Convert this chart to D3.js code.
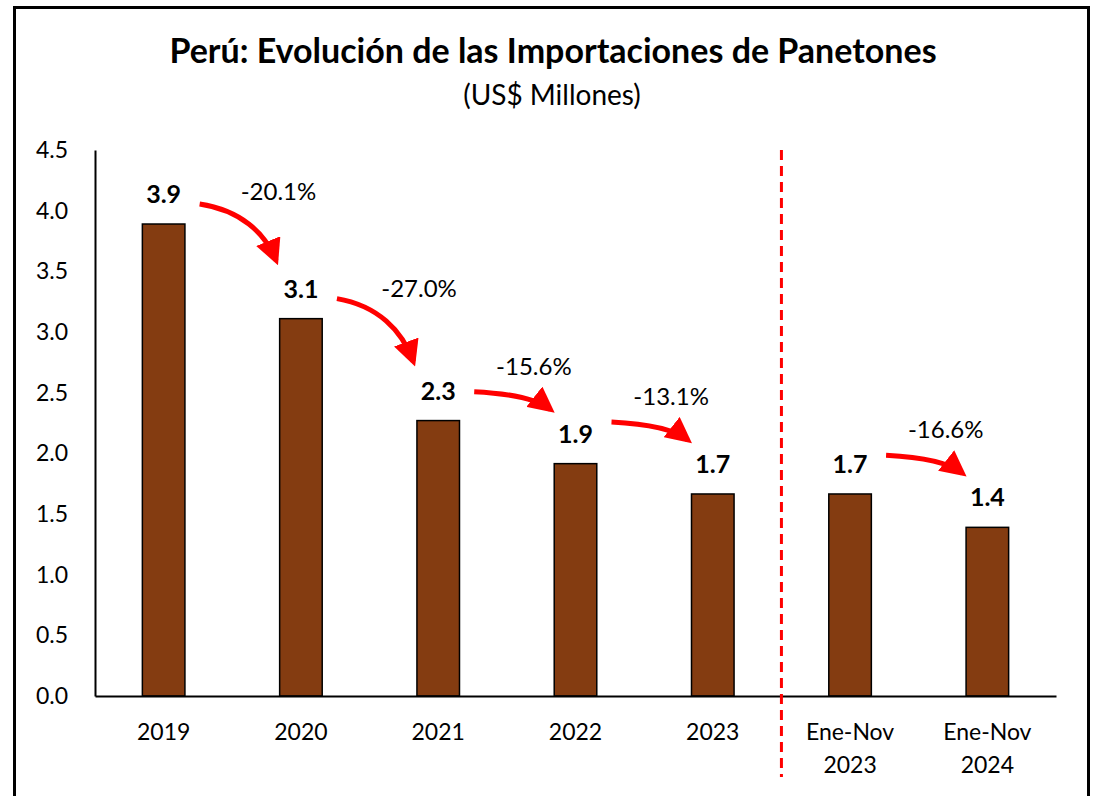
<!DOCTYPE html>
<html lang="es">
<head>
<meta charset="UTF-8" />
<title>Importaciones de Panetones</title>
<script src="https://d3js.org/d3.v7.min.js"></script>
<style>
  body { margin: 0; background: #fff; }
  text { font-family: Lato, "Open Sans", sans-serif; fill: #000; }
</style>
</head>
<body>
<div id="chart"></div>
<script>
// data
var categories = ["2019", "2020", "2021", "2022", "2023", "Ene-Nov 2023", "Ene-Nov 2024"];
var values = [3.89, 3.11, 2.27, 1.915, 1.665, 1.665, 1.39];
var yTicks = [0, 0.5, 1, 1.5, 2, 2.5, 3, 3.5, 4, 4.5];
// variations between consecutive bars: from index, to index, label
var changeFrom = [0, 1, 2, 3, 5];
var changeTo = [1, 2, 3, 4, 6];
var changeLabels = ["-20.1%", "-27.0%", "-15.6%", "-13.1%", "-16.6%"];

(function () {
    var w = 1101, h = 796;
    var padLeft = 95, padRight = 1056, padTop = 150, padBottom = 696;
    var barColor = "#843C11";
    var red = "#FF0000";

    var svg = d3.select("#chart").append("svg")
        .attr("width", w)
        .attr("height", h);

    svg.append("rect").attr("width", w).attr("height", h).attr("fill", "#fff");

    // outer frame (bottom edge runs off the picture)
    svg.append("rect")
        .attr("x", 14.5).attr("y", 7.5)
        .attr("width", 1074).attr("height", 820)
        .attr("fill", "none").attr("stroke", "#000").attr("stroke-width", 3);

    svg.append("text")
        .attr("x", 553).attr("y", 63)
        .attr("text-anchor", "middle")
        .style("font-weight", "bold").style("font-size", "34px")
        .text("Perú: Evolución de las Importaciones de Panetones");

    svg.append("text")
        .attr("x", 552).attr("y", 105)
        .attr("text-anchor", "middle")
        .style("font-size", "28px")
        .text("(US$ Millones)");

    var x = d3.scaleBand()
        .domain(categories)
        .range([padLeft, padRight])
        .paddingInner(0.69)
        .paddingOuter(0.345);

    var y = d3.scaleLinear()
        .domain([0, 4.5])
        .range([padBottom, padTop]);

    function xc(i) { return x(categories[i]) + x.bandwidth() / 2; }

    // y axis
    var yAxis = svg.append("g")
        .attr("transform", "translate(" + padLeft + ",0)")
        .call(d3.axisLeft(y).tickValues(yTicks).tickFormat(d3.format(".1f")).tickSize(0).tickPadding(27));
    yAxis.select(".domain").attr("stroke", "#000").attr("stroke-width", 2);
    yAxis.selectAll("text").style("font-size", "23px").style("font-family", "Lato, sans-serif").attr("fill", "#000");

    // bars
    svg.selectAll(".bar")
        .data(values)
        .enter()
        .append("rect")
        .attr("class", "bar")
        .attr("x", function (d, i) { return x(categories[i]); })
        .attr("y", function (d) { return y(d); })
        .attr("width", x.bandwidth())
        .attr("height", function (d) { return y(0) - y(d); })
        .attr("fill", barColor)
        .attr("stroke", "#000")
        .attr("stroke-width", 1.5);

    // x axis
    var xAxis = svg.append("g")
        .attr("transform", "translate(0," + padBottom + ")")
        .call(d3.axisBottom(x).tickSize(0).tickSizeOuter(0).tickFormat(""));
    xAxis.select(".domain").attr("stroke", "#000").attr("stroke-width", 2);
    xAxis.selectAll(".tick").each(function (d) {
        var lines = d.split(" ");
        var t = d3.select(this).append("text")
            .attr("y", 44)
            .attr("text-anchor", "middle")
            .style("font-size", "23px")
            .style("font-family", "Lato, sans-serif")
            .attr("fill", "#000");
        lines.forEach(function (ln, k) {
            t.append("tspan").attr("x", 0).attr("dy", k === 0 ? 0 : 33).text(ln);
        });
    });

    // dashed divider between full years and Ene-Nov
    var divX = xc(5) - x.step() / 2;
    svg.append("line")
        .attr("x1", divX).attr("x2", divX)
        .attr("y1", padTop).attr("y2", 777)
        .attr("stroke", red).attr("stroke-width", 3)
        .attr("stroke-dasharray", "10,6");

    // value labels
    svg.selectAll(".val")
        .data(values)
        .enter()
        .append("text")
        .attr("class", "val")
        .attr("x", function (d, i) { return xc(i); })
        .attr("y", function (d) { return y(d) - 21; })
        .attr("text-anchor", "middle")
        .style("font-weight", "bold").style("font-size", "25px")
        .text(function (d) { return d3.format(".1f")(d); });

    // curved arrows with variation labels
    svg.append("defs").append("marker")
        .attr("id", "head")
        .attr("viewBox", "0 0 10 10")
        .attr("refX", 8).attr("refY", 5)
        .attr("markerWidth", 26).attr("markerHeight", 26)
        .attr("markerUnits", "userSpaceOnUse")
        .attr("orient", "auto")
        .append("path").attr("d", "M0,0 L10,5 L0,10 Z").attr("fill", red);

    changeFrom.forEach(function (a, k) {
        var b = changeTo[k];
        var sx = xc(a) + 36;
        var sy = Math.min(y(values[a]) - 20, y(values[b]) - 72);
        var ex = xc(b) - 20;
        var ey = y(values[b]) - 52;
        var dx = ex - sx, dy = ey - sy;
        var p = d3.path();
        p.moveTo(sx, sy);
        p.bezierCurveTo(sx + dx * 0.5, sy + dy * 0.1, ex - dx * 0.2, ey - dy * 0.55, ex - dx * 0.06, ey - dy * 0.1);
        svg.append("path")
            .attr("d", p.toString())
            .attr("fill", "none")
            .attr("stroke", red)
            .attr("stroke-width", 5)
            .attr("marker-end", "url(#head)");

        svg.append("text")
            .attr("x", (sx + ex) / 2 + 0.45 * dy + 10)
            .attr("y", sy - 23 + 0.3 * dy)
            .attr("text-anchor", "middle")
            .style("font-size", "24px")
            .text(changeLabels[k]);
    });
})();
</script>
</body>
</html>
